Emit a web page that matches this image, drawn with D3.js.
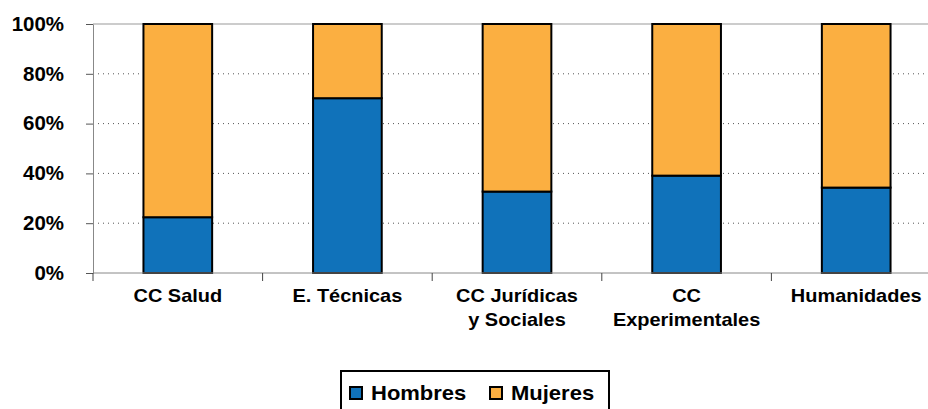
<!DOCTYPE html>
<html>
<head>
<meta charset="utf-8">
<script src="https://cdn.jsdelivr.net/npm/d3@7"></script>
<style>
  html, body { margin: 0; background: #fff; overflow: hidden; }
  svg { display: block; font-family: "Liberation Sans", Arial, sans-serif; font-weight: bold; }
</style>
</head>
<body>
<div id="chart"></div>
<script>
const categories = [["CC Salud"], ["E. Técnicas"], ["CC Jurídicas", "y Sociales"], ["CC", "Experimentales"], ["Humanidades"]];
const hombres = [22.4, 70.2, 32.7, 39.1, 34.3];
const mujeres = hombres.map(v => 100 - v);
const yTicks = [0, 20, 40, 60, 80, 100];
const seriesNames = ["Hombres", "Mujeres"];

const width = 928, height = 409;
const margin = { left: 93, top: 24, right: -13, bottom: 136 };
const innerWidth = width - margin.left - margin.right;
const innerHeight = height - margin.top - margin.bottom;
const colors = { Hombres: "#1072ba", Mujeres: "#fbaf41" };

const svg = d3.select("#chart").append("svg")
  .attr("width", width).attr("height", height)
  .attr("viewBox", `0 0 ${width} ${height}`);

const g = svg.append("g").attr("transform", `translate(${margin.left},${margin.top})`);

const keys = categories.map(d => d.join(" "));
const x = d3.scaleBand().domain(keys).range([0, innerWidth]).paddingInner(0).paddingOuter(0);
const y = d3.scaleLinear().domain([0, 100]).range([innerHeight, 0]);

// gridlines
g.selectAll(".grid").data(yTicks.filter(t => t > 0 && t < 100)).join("line")
  .attr("x1", 0).attr("x2", innerWidth)
  .attr("y1", d => y(d)).attr("y2", d => y(d))
  .attr("stroke", "#555").attr("stroke-width", 1)
  .attr("stroke-dasharray", "1,4");
g.append("line").attr("x1", 0).attr("x2", innerWidth).attr("y1", y(100)).attr("y2", y(100))
  .attr("stroke", "#999");

// stacked bars
const rows = keys.map((k, i) => ({ key: k, Hombres: hombres[i], Mujeres: mujeres[i] }));
const stack = d3.stack().keys(seriesNames)(rows);
const barW = x.bandwidth() * 0.405;
g.selectAll(".series").data(stack).join("g")
  .attr("fill", d => colors[d.key])
  .selectAll("rect").data(d => d).join("rect")
    .attr("x", d => x(d.data.key) + (x.bandwidth() - barW) / 2)
    .attr("y", d => y(d[1]))
    .attr("width", barW)
    .attr("height", d => y(d[0]) - y(d[1]))
    .attr("stroke", "#000").attr("stroke-width", 2);

// y axis
const leftAxis = d3.axisLeft(y).tickValues(yTicks).tickFormat(d => d + "%").tickSize(7).tickSizeOuter(0);
const ya = g.append("g").call(leftAxis);
ya.select(".domain").attr("stroke", "#888");
ya.selectAll(".tick line").attr("stroke", "#555");
ya.selectAll("text").attr("font-size", 19.5).attr("font-weight", "bold")
  .attr("fill", "#000").attr("x", 0).attr("transform", "translate(-29,0) scale(1.05,1)")
  .attr("font-family", "Liberation Sans, Arial, sans-serif");

// x axis
const xa = g.append("g").attr("transform", `translate(0,${innerHeight})`);
xa.append("line").attr("x1", 0).attr("x2", innerWidth).attr("stroke", "#888");
xa.selectAll(".xt").data(d3.range(keys.length + 1)).join("line")
  .attr("x1", i => i * x.bandwidth()).attr("x2", i => i * x.bandwidth())
  .attr("y1", 0).attr("y2", 8).attr("stroke", "#444");
const xl = xa.selectAll(".xl").data(categories).join("text")
  .attr("text-anchor", "middle")
  .attr("font-size", 19)
  .attr("transform", (d, i) => `translate(${x(keys[i]) + x.bandwidth() / 2},29) scale(1.05,1)`);
xl.selectAll("tspan").data(d => d).join("tspan")
  .attr("x", 0).attr("dy", (d, i) => i === 0 ? 0 : 24)
  .text(d => d);

// legend
const lg = svg.append("g").attr("transform", "translate(341,371)");
lg.append("rect").attr("x", 0).attr("y", 0).attr("width", 268).attr("height", 45)
  .attr("fill", "#fff").attr("stroke", "#000").attr("stroke-width", 2);
const items = lg.selectAll(".li").data(seriesNames).join("g")
  .attr("transform", (d, i) => `translate(${i === 0 ? 9 : 149},16)`);
items.append("rect").attr("width", 12).attr("height", 12)
  .attr("fill", d => colors[d]).attr("stroke", "#000").attr("stroke-width", 2);
items.append("text").attr("transform", "translate(21,13) scale(1.1,1)").attr("font-size", 20).text(d => d);
</script>
</body>
</html>
